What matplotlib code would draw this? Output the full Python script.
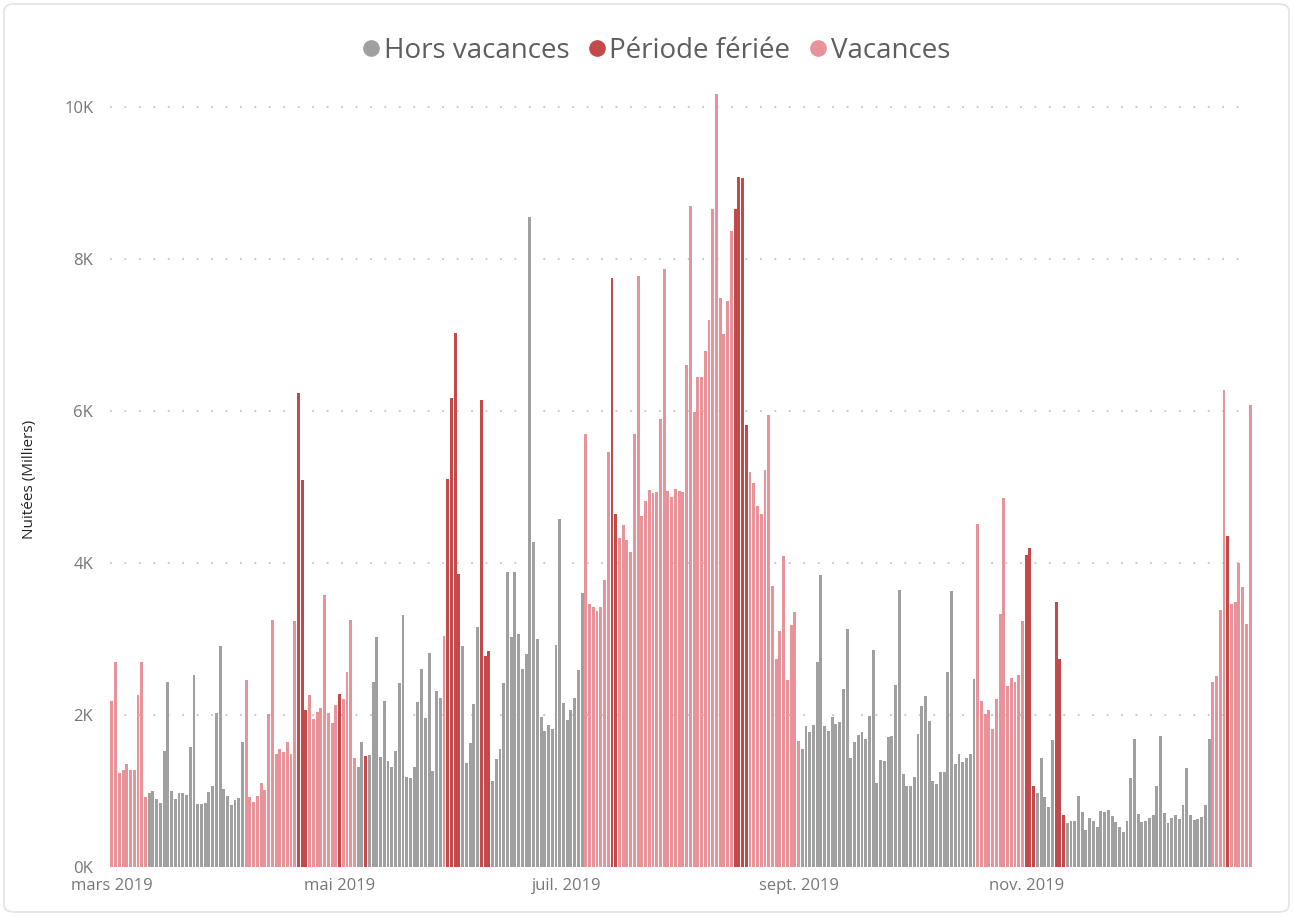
import numpy as np
import pandas as pd
import matplotlib
matplotlib.use("Agg")
import matplotlib.pyplot as plt
from matplotlib.lines import Line2D
from matplotlib.patches import FancyBboxPatch

plt.rcParams['font.family'] = ['Open Sans', 'DejaVu Sans']

# Nuitées journalières (milliers), du 1er mars au 31 décembre 2019
mars = [2.18, 2.70, 1.24, 1.27, 1.36, 1.27, 1.28, 2.26, 2.70, 0.92,
        0.98, 1.00, 0.90, 0.84, 1.52, 2.44, 1.00, 0.90, 0.97, 0.97,
        0.95, 1.58, 2.52, 0.83, 0.83, 0.84, 0.99, 1.07, 2.02, 2.91, 1.02]
avril = [0.93, 0.81, 0.88, 0.91, 1.65, 2.46, 0.92, 0.85, 0.93, 1.10,
         1.01, 2.01, 3.25, 1.49, 1.55, 1.51, 1.64, 1.48, 3.23, 6.24,
         5.09, 2.07, 2.26, 1.95, 2.04, 2.09, 3.58, 2.03, 1.90, 2.13]
mai = [2.27, 2.21, 2.56, 3.25, 1.43, 1.31, 1.64, 1.46, 1.47, 2.43,
       3.03, 1.45, 2.18, 1.40, 1.32, 1.53, 2.42, 3.32, 1.18, 1.17,
       1.31, 2.17, 2.61, 1.96, 2.82, 1.26, 2.31, 2.22, 3.04, 5.10, 6.17]
juin = [7.02, 3.85, 2.91, 1.37, 1.63, 2.15, 3.16, 6.14, 2.78, 2.84,
        1.13, 1.42, 1.55, 2.42, 3.88, 3.02, 3.88, 3.06, 2.60, 2.80,
        8.55, 4.28, 3.00, 1.97, 1.79, 1.87, 1.81, 2.92, 4.58, 2.16]
juillet = [1.93, 2.06, 2.22, 2.59, 3.61, 5.70, 3.46, 3.42, 3.37, 3.42,
           3.77, 5.46, 7.75, 4.64, 4.33, 4.50, 4.30, 4.15, 5.69, 7.77,
           4.62, 4.82, 4.96, 4.92, 4.93, 5.89, 7.86, 4.95, 4.87, 4.97, 4.95]
aout = [4.93, 6.60, 8.70, 5.98, 6.45, 6.45, 6.79, 7.19, 8.65, 10.17,
        7.48, 7.01, 7.44, 8.37, 8.66, 9.08, 9.06, 5.82, 5.20, 5.05,
        4.75, 4.64, 5.22, 5.94, 3.69, 2.74, 3.11, 4.09, 2.46, 3.18, 3.35]
septembre = [1.66, 1.55, 1.85, 1.77, 1.87, 2.70, 3.84, 1.85, 1.79, 1.97,
             1.88, 1.91, 2.34, 3.13, 1.44, 1.64, 1.74, 1.77, 1.69, 1.98,
             2.86, 1.11, 1.41, 1.39, 1.71, 1.72, 2.40, 3.64, 1.22, 1.06]
octobre = [1.07, 1.19, 1.75, 2.12, 2.25, 1.92, 1.13, 1.09, 1.25, 1.25,
           2.57, 3.63, 1.36, 1.49, 1.38, 1.43, 1.48, 2.47, 4.51, 2.18,
           2.01, 2.07, 1.82, 2.21, 3.33, 4.86, 2.38, 2.48, 2.43, 2.53, 3.24]
novembre = [4.10, 4.19, 1.07, 0.97, 1.43, 0.92, 0.79, 1.67, 3.48, 2.73,
            0.68, 0.58, 0.60, 0.61, 0.94, 0.72, 0.49, 0.64, 0.61, 0.52,
            0.74, 0.73, 0.75, 0.67, 0.59, 0.52, 0.46, 0.61, 1.17, 1.68]
decembre = [0.70, 0.59, 0.60, 0.64, 0.69, 1.07, 1.72, 0.71, 0.58, 0.65,
            0.69, 0.63, 0.82, 1.30, 0.68, 0.62, 0.63, 0.66, 0.82, 1.68,
            2.44, 2.51, 3.38, 6.28, 4.36, 3.46, 3.49, 4.00, 3.68, 3.20, 6.08]

# Type de période par jour : H = hors vacances, F = période fériée, V = vacances
periode_mois = [
    "V" * 10 + "H" * 21,
    "H" * 5 + "V" * 14 + "F" * 3 + "V" * 8,
    "F" + "V" * 4 + "H" * 2 + "F" + "H" * 20 + "V" + "F" * 2,
    "F" * 2 + "H" * 5 + "F" * 3 + "H" * 20,
    "H" * 5 + "V" * 7 + "F" * 2 + "V" * 17,
    "V" * 14 + "F" * 4 + "V" * 13,
    "V" + "H" * 29,
    "H" * 18 + "V" * 13,
    "F" * 3 + "H" * 5 + "F" * 3 + "H" * 19,
    "H" * 20 + "V" * 4 + "F" + "V" * 6,
]

categories = ["Hors vacances", "Période fériée", "Vacances"]
codes = {"H": "Hors vacances", "F": "Période fériée", "V": "Vacances"}
couleurs = {"Hors vacances": "#A0A0A0", "Période fériée": "#C24A4A", "Vacances": "#E8939A"}

tick_dates = ["2019-03-01", "2019-05-01", "2019-07-01", "2019-09-01", "2019-11-01"]
tick_labels = ["mars 2019", "mai 2019", "juil. 2019", "sept. 2019", "nov. 2019"]

valeurs = mars + avril + mai + juin + juillet + aout + septembre + octobre + novembre + decembre
periode = [codes[c] for c in "".join(periode_mois)]
dates = pd.date_range("2019-03-01", periods=len(valeurs), freq="D")
df = pd.DataFrame({"date": dates, "nuitees": valeurs, "periode": periode})

W, H = 1293, 916
fig = plt.figure(figsize=(W / 100, H / 100), dpi=100)
fig.patch.set_facecolor("white")

# cadre arrondi type carte
card = FancyBboxPatch((4 / W, 4 / H), 1 - 8 / W, 1 - 8 / H,
                      boxstyle="round,pad=0,rounding_size=0.008",
                      transform=fig.transFigure, facecolor="white",
                      edgecolor="#E3E3E3", linewidth=1.2, zorder=-10)
fig.patches.append(card)

ax = fig.add_axes([110 / W, 49 / H, (1252 - 110) / W, (867 - 84) / H])
ax.set_facecolor("none")

colors = [couleurs[p] for p in df["periode"]]
ax.bar(df["date"], df["nuitees"], width=0.78, color=colors, linewidth=0, zorder=3)

ax.set_xlim(dates[0] - pd.Timedelta(hours=12), dates[-1] + pd.Timedelta(hours=12))
ax.set_ylim(0, 10.3)

ax.set_yticks([0, 2, 4, 6, 8, 10])
ax.set_yticklabels([f"{v}K" for v in [0, 2, 4, 6, 8, 10]])
ax.set_xticks(pd.to_datetime(tick_dates))
ax.set_xticklabels(tick_labels)
ax.tick_params(axis="both", length=0, labelsize=12, labelcolor="#777777")
ax.tick_params(axis="y", pad=12)
ax.tick_params(axis="x", pad=8)

for v in [2, 4, 6, 8, 10]:
    ax.axhline(v, xmax=0.996, color="#C4C4C4", linewidth=1.3, linestyle=(0, (1, 7)), zorder=1)

for s in ax.spines.values():
    s.set_visible(False)

fig.text(30 / W, 1 - 479 / H, "Nuitées (Milliers)", rotation=90, ha="center", va="center",
         fontsize=11, color="#252423")

handles = [Line2D([], [], marker="o", linestyle="", markersize=11,
                  markerfacecolor=couleurs[c], markeredgecolor=couleurs[c]) for c in categories]
fig.legend(handles, categories, loc="center", bbox_to_anchor=(655 / W, 1 - 51 / H), ncol=3,
           frameon=False, fontsize=20, labelcolor="#605E5C", handletextpad=0.05,
           columnspacing=0.6, handlelength=0.8, borderaxespad=0)

fig.savefig("out.png", dpi=100, facecolor="white")
